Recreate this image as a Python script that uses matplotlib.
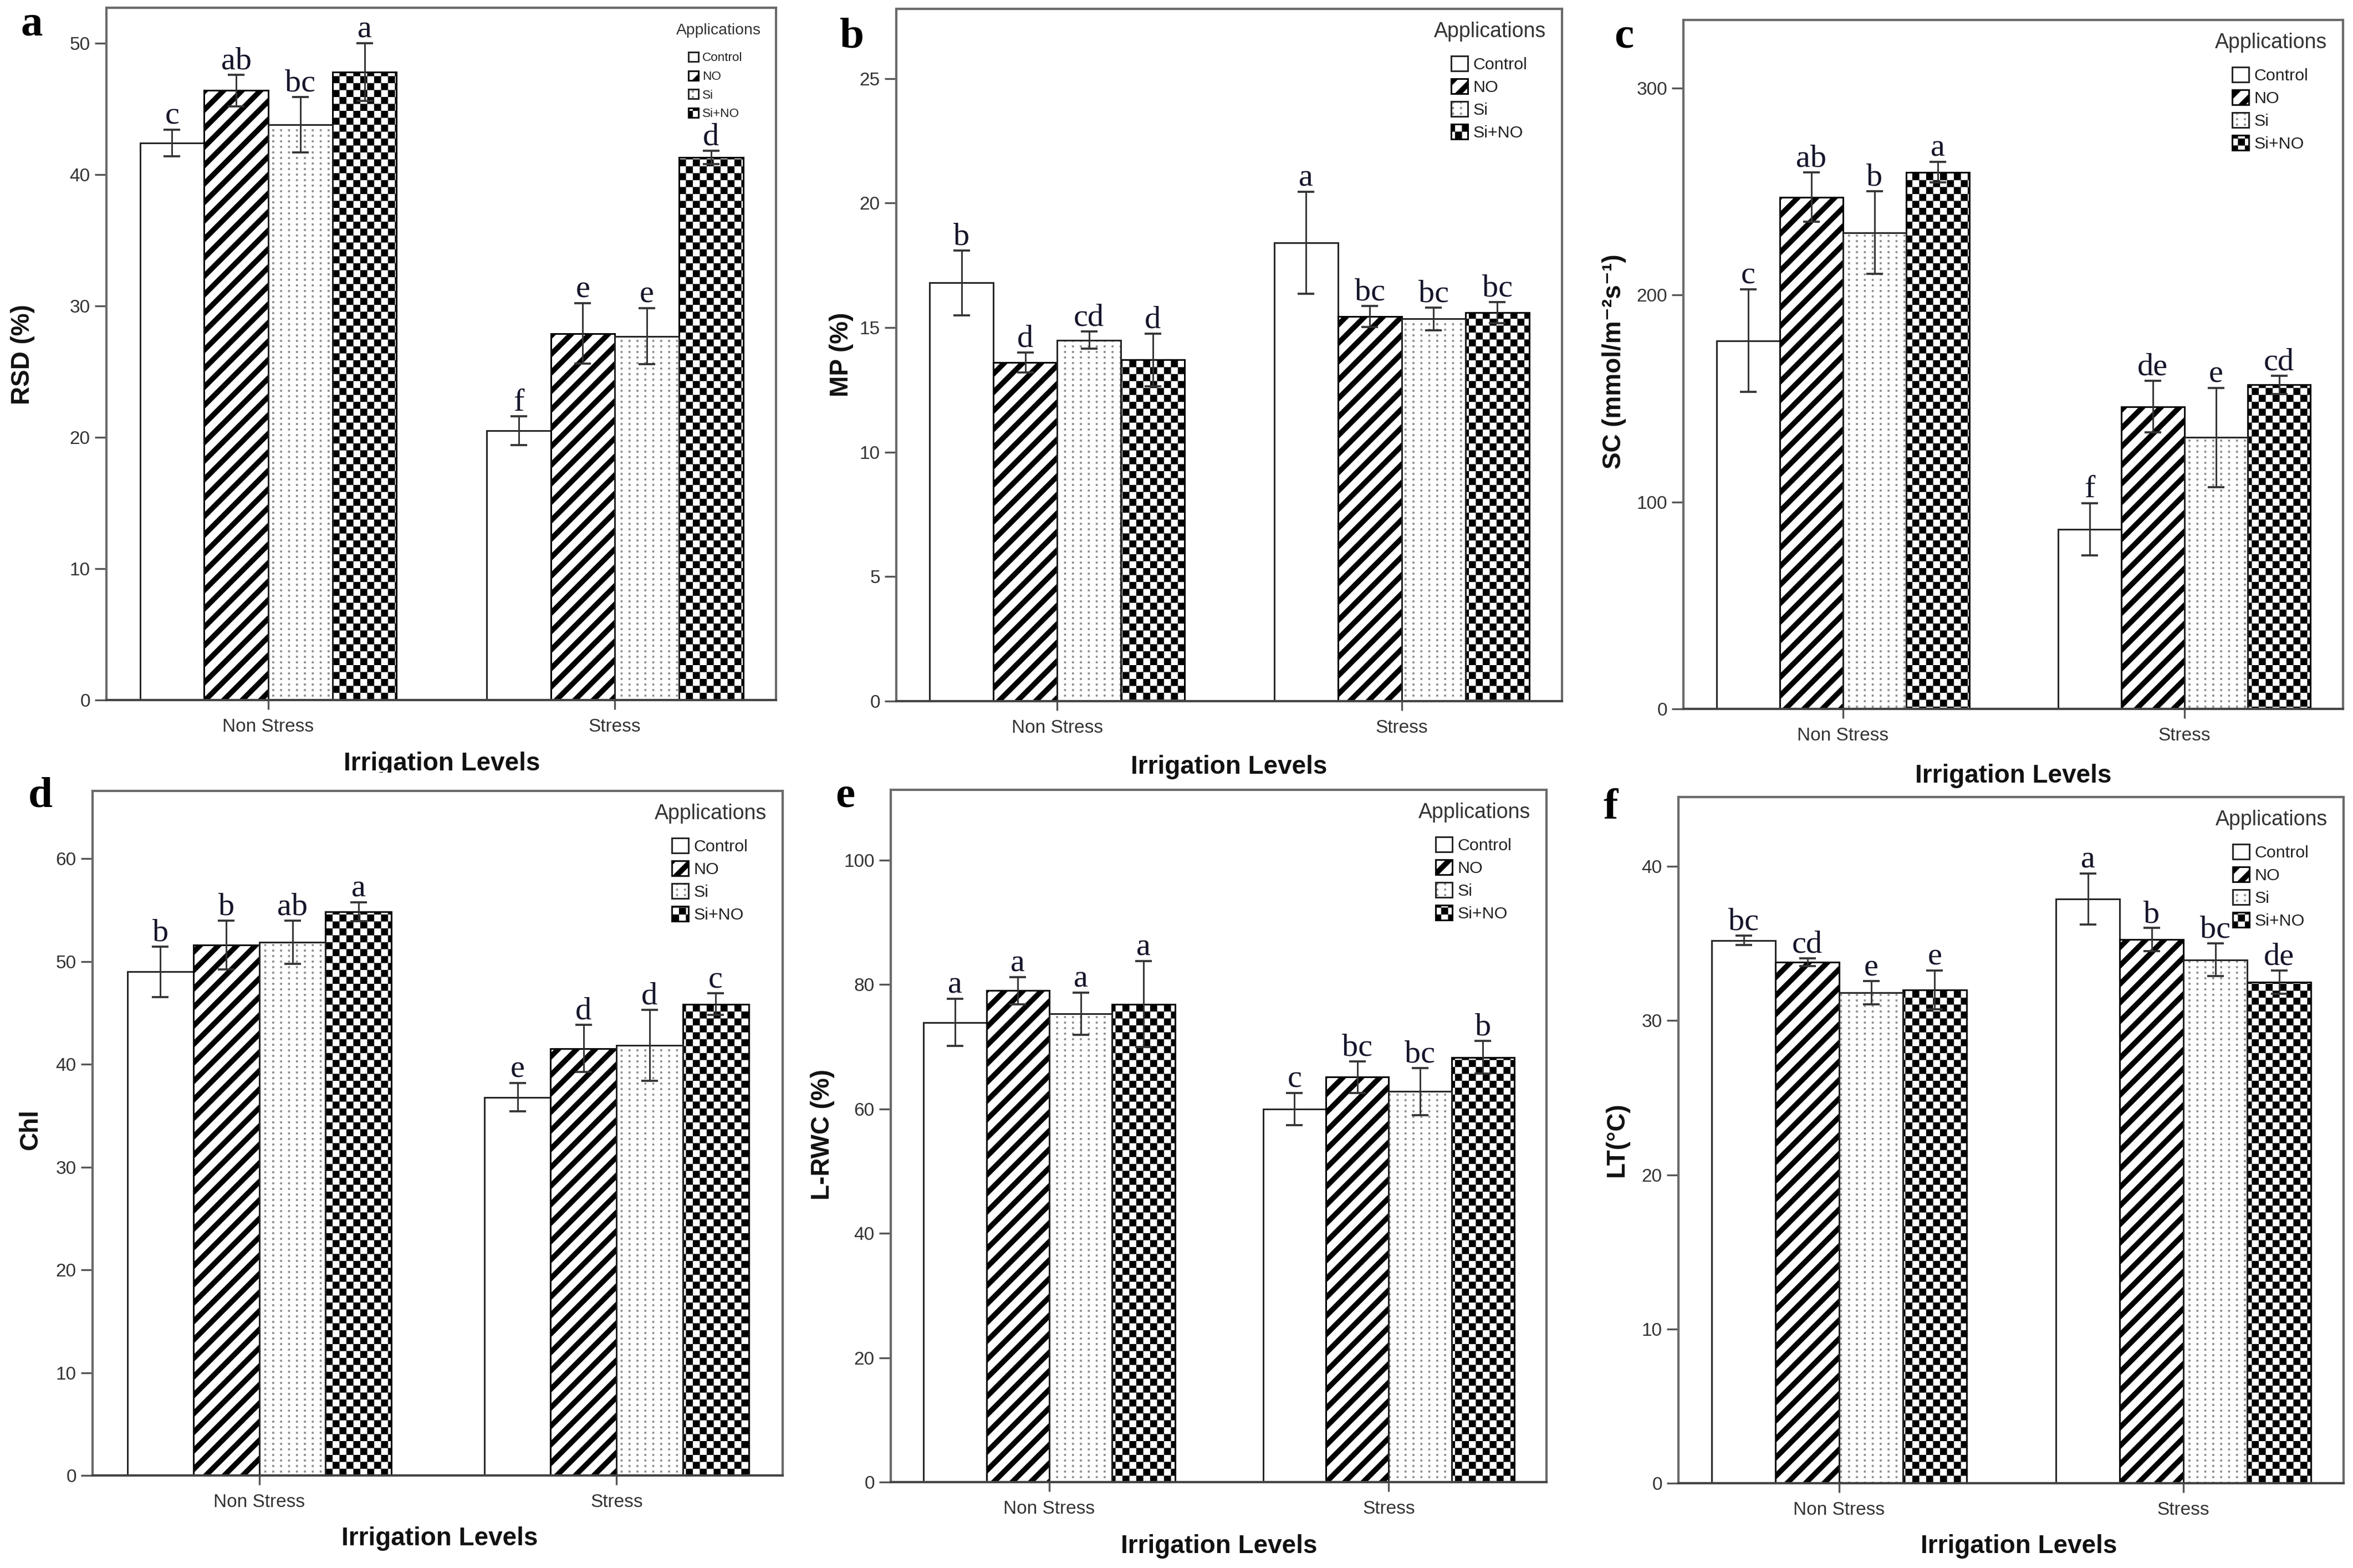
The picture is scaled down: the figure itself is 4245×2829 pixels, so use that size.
import numpy as np
import matplotlib
matplotlib.use('Agg')
import matplotlib.pyplot as plt
import matplotlib.hatch as mhatch
from matplotlib.path import Path
from matplotlib.patches import Rectangle
from matplotlib.legend_handler import HandlerTuple

# 데이터 - 각 리스트는 [Non Stress, Stress]
groups = ['Non Stress', 'Stress']
treatments = ['Control', 'NO', 'Si', 'Si+NO']

rsd_mean = [[42.4, 20.5], [46.4, 27.9], [43.8, 27.7], [47.8, 41.3]]
rsd_err = [[1.0, 1.1], [1.2, 2.3], [2.1, 2.15], [2.2, 0.5]]
rsd_let = [['c', 'f'], ['ab', 'e'], ['bc', 'e'], ['a', 'd']]

mp_mean = [[16.8, 18.4], [13.6, 15.45], [14.5, 15.35], [13.7, 15.6]]
mp_err = [[1.3, 2.05], [0.4, 0.42], [0.35, 0.45], [1.05, 0.42]]
mp_let = [['b', 'a'], ['d', 'bc'], ['cd', 'bc'], ['d', 'bc']]

sc_mean = [[178, 86.8], [247.4, 146.1], [230.2, 131.2], [259.4, 156.6]]
sc_err = [[24.7, 12.7], [12.0, 12.4], [20.0, 24.0], [5.0, 4.3]]
sc_let = [['c', 'f'], ['ab', 'de'], ['b', 'e'], ['a', 'cd']]

chl_mean = [[49.0, 36.8], [51.6, 41.55], [51.9, 41.85], [54.85, 45.85]]
chl_err = [[2.45, 1.38], [2.36, 2.3], [2.1, 3.45], [0.9, 1.04]]
chl_let = [['b', 'e'], ['b', 'd'], ['ab', 'd'], ['a', 'c']]

rwc_mean = [[73.9, 60.0], [79.0, 65.1], [75.3, 62.8], [76.85, 68.3]]
rwc_err = [[3.8, 2.6], [2.2, 2.5], [3.35, 3.8], [6.9, 2.6]]
rwc_let = [['a', 'c'], ['a', 'bc'], ['a', 'bc'], ['a', 'b']]

lt_mean = [[35.2, 37.9], [33.8, 35.25], [31.8, 33.95], [32.0, 32.5]]
lt_err = [[0.3, 1.65], [0.25, 0.75], [0.75, 1.07], [1.25, 0.76]]
lt_let = [['bc', 'a'], ['cd', 'b'], ['e', 'bc'], ['e', 'de']]


# 체크무늬 / 점무늬 해치 (matplotlib 기본 해치에 없음)
class CheckerHatch(mhatch.HatchPatternBase):
    def __init__(self, hatch, density):
        n = int(hatch.count('O') * density)
        self.n = n + (n % 2)
        self.num_vertices = (self.n * self.n // 2) * 5

    def set_vertices_and_codes(self, vertices, codes):
        n = self.n
        s = 1.0 / n
        ii, jj = np.meshgrid(np.arange(n), np.arange(n))
        keep = ((ii + jj) % 2 == 0).ravel()
        x0 = ii.ravel()[keep] * s
        y0 = jj.ravel()[keep] * s
        sq = np.array([[0, 0], [s, 0], [s, s], [0, s], [0, 0]])
        v = sq[None, :, :] + np.stack([x0, y0], 1)[:, None, :]
        vertices[:] = v.reshape(-1, 2)
        c = [Path.MOVETO, Path.LINETO, Path.LINETO, Path.LINETO, Path.CLOSEPOLY]
        codes[:] = np.tile(c, len(x0))


class GridDots(mhatch.HatchPatternBase):
    def __init__(self, hatch, density):
        c = hatch.count('.')
        self.nx = 7 * c
        self.ny = 10 * c
        self.num_vertices = self.nx * self.ny * 5

    def set_vertices_and_codes(self, vertices, codes):
        d = 0.0085
        xs = (np.arange(self.nx) + 0.5) / self.nx
        ys = (np.arange(self.ny) + 0.5) / self.ny
        X, Y = np.meshgrid(xs, ys)
        sq = np.array([[-d, -d], [d, -d], [d, d], [-d, d], [-d, -d]]) / 2
        v = sq[None, :, :] + np.stack([X.ravel(), Y.ravel()], 1)[:, None, :]
        vertices[:] = v.reshape(-1, 2)
        c = [Path.MOVETO, Path.LINETO, Path.LINETO, Path.LINETO, Path.CLOSEPOLY]
        codes[:] = np.tile(c, X.size)


mhatch._hatch_types[:] = [t for t in mhatch._hatch_types
                          if t not in (mhatch.LargeCircles, mhatch.SmallFilledCircles)]
mhatch._hatch_types += [CheckerHatch, GridDots]

HATCH_LW = {'NO': 2.3, 'Si': 0.25, 'Si+NO': 0.05}


def hatch_lw(patch, lw):
    # 버전마다 해치 선굵기 읽는 곳이 달라서 전부 설정
    if hasattr(patch, 'set_hatch_linewidth'):
        patch.set_hatch_linewidth(lw)
    patch._hatch_linewidth = lw
    orig = patch.draw

    def draw(renderer, _orig=orig, _lw=lw):
        with plt.rc_context({'hatch.linewidth': _lw}):
            _orig(renderer)
    patch.draw = draw


plt.rcParams['font.family'] = ['Liberation Sans', 'DejaVu Sans']
SERIF = ['Liberation Serif', 'DejaVu Serif']

W, H = 4245, 2829
fig = plt.figure(figsize=(W / 300, H / 300), dpi=300)

panels = [
    dict(mean=rsd_mean, err=rsd_err, let=rsd_let, ylabel='RSD (%)', ymax=52.7,
         ticks=[0, 10, 20, 30, 40, 50], tag='a', small=True),
    dict(mean=mp_mean, err=mp_err, let=mp_let, ylabel='MP (%)', ymax=27.8,
         ticks=[0, 5, 10, 15, 20, 25], tag='b', small=False),
    dict(mean=sc_mean, err=sc_err, let=sc_let, ylabel='SC (mmol/m\u207b\u00b2s\u207b\u00b9)', ymax=333,
         ticks=[0, 100, 200, 300], tag='c', small=False),
    dict(mean=chl_mean, err=chl_err, let=chl_let, ylabel='Chl', ymax=66.6,
         ticks=[0, 10, 20, 30, 40, 50, 60], tag='d', small=False),
    dict(mean=rwc_mean, err=rwc_err, let=rwc_let, ylabel='L-RWC (%)', ymax=111.3,
         ticks=[0, 20, 40, 60, 80, 100], tag='e', small=False),
    dict(mean=lt_mean, err=lt_err, let=lt_let, ylabel='LT(\u00b0C)', ymax=44.5,
         ticks=[0, 10, 20, 30, 40], tag='f', small=False),
]

# 배치 (픽셀): 축 박스, 패널 글자, y라벨, x라벨 위치
boxes = [(192, 14, 1400, 1263), (1617, 16, 2818, 1265), (3037, 36, 4227, 1279),
         (167, 1427, 1412, 2662), (1607, 1425, 2790, 2674), (3028, 1438, 4228, 2676)]
tag_pos = [(57, 63), (1537, 86), (2930, 85), (73, 1456), (1525, 1456), (2906, 1477)]
ylab_pos = [(41, 640), (1518, 640), (2912, 652), (55, 2038), (1484, 2047), (2917, 2056)]
xlab_pos = [(797, 1378), (2217, 1384), (3632, 1400), (793, 2776), (2199, 2790), (3642, 2790)]

bw = 0.185
offs = (np.arange(4) - 1.5) * bw
x = np.arange(len(groups))

for p, (l, t, r, b), tp, yp, xp in zip(panels, boxes, tag_pos, ylab_pos, xlab_pos):
    ax = fig.add_axes([l / W, 1 - b / H, (r - l) / W, (b - t) / H])
    handles = []
    for k, tr in enumerate(treatments):
        xs = x + offs[k]
        m = p['mean'][k]
        with plt.rc_context({'hatch.linewidth': HATCH_LW.get(tr, 1.0)}):
            if tr == 'Control':
                c = ax.bar(xs, m, bw, color='white', edgecolor='#222222', lw=0.7, zorder=2)
                h = c
            elif tr == 'NO':
                c = ax.bar(xs, m, bw, color='white', edgecolor='black', hatch='///', lw=0.7, zorder=2)
                h = c
            elif tr == 'Si':
                c = ax.bar(xs, m, bw, color='white', edgecolor='#8c8c8c', hatch='...', lw=0.0, zorder=2)
                c2 = ax.bar(xs, m, bw, fill=False, edgecolor='#222222', lw=0.7, zorder=2.1)
                h = (c, c2)
            else:
                c = ax.bar(xs, m, bw, color='white', edgecolor='black', hatch='OOOO', lw=0.7, zorder=2)
                h = c
        if tr in HATCH_LW:
            for bar in c:
                hatch_lw(bar, HATCH_LW[tr])
        handles.append(h)
        ax.errorbar(xs, m, yerr=p['err'][k], fmt='none', ecolor='#333333',
                    elinewidth=0.7, capsize=3.5, capthick=0.9, zorder=3)
        for xi, mi, ei, lt in zip(xs, m, p['err'][k], p['let'][k]):
            ax.annotate(lt, xy=(xi, mi + ei), xytext=(0, 2.5), textcoords='offset points',
                        ha='center', va='baseline', fontsize=14, family=SERIF,
                        color='#15152b', zorder=4)

    ax.set_xlim(-0.467, 1.465)
    ax.set_ylim(0, p['ymax'])
    ax.set_yticks(p['ticks'])
    ax.set_xticks(x)
    ax.set_xticklabels(groups)
    ax.tick_params(axis='y', direction='out', length=5, width=0.8, color='#555555',
                   pad=2, labelsize=8, labelcolor='#333333')
    ax.tick_params(axis='x', direction='inout', length=8, width=0.8, color='#555555',
                   pad=4, labelsize=8, labelcolor='#333333')
    for s in ax.spines.values():
        s.set_color('#6a6a6a')
        s.set_linewidth(1.0)
    ax.spines['bottom'].set_color('#444444')

    # 범례: 제목은 따로, 항목은 오른쪽 위에 붙임
    if p['small']:
        tfs, lfs, hs, lsp = 6.8, 5.4, 0.8, 0.54
        title_xy = (r - 104, t + 41)
        leg_xy = (r - 158, t + 80)
    else:
        tfs, lfs, hs, lsp = 9.0, 7.3, 1.0, 0.36
        title_xy = (r - 130, t + 41)
        leg_xy = (r - 200, t + 85)
    leg = ax.legend(handles, treatments, loc='upper left', frameon=False,
                    bbox_to_anchor=(leg_xy[0] / W, 1 - leg_xy[1] / H),
                    bbox_transform=fig.transFigure, fontsize=lfs,
                    handlelength=hs, handleheight=hs, handletextpad=0.3,
                    labelspacing=lsp, borderaxespad=0, borderpad=0,
                    handler_map={tuple: HandlerTuple(ndivide=1)})
    for txt in leg.get_texts():
        txt.set_color('#222222')
    for hnd, tr in zip(leg.legend_handles, treatments):
        if tr in HATCH_LW:
            hatch_lw(hnd, HATCH_LW[tr])
    fig.text(title_xy[0] / W, 1 - title_xy[1] / H, 'Applications', ha='center', va='center',
             fontsize=tfs, color='#333333')

    fig.text(tp[0] / W, 1 - tp[1] / H, p['tag'], ha='center', va='baseline',
             fontsize=19, fontweight='bold', family=SERIF, color='black')
    fig.text(yp[0] / W, 1 - yp[1] / H, p['ylabel'], rotation=90, ha='center', va='center',
             fontsize=11, fontweight='bold', color='#111111')
    fig.text(xp[0] / W, 1 - xp[1] / H, 'Irrigation Levels', ha='center', va='center',
             fontsize=11, fontweight='bold', color='#111111')

# 원본에서 a 패널의 x축 제목 아랫부분이 잘려 있음
fig.patches.append(Rectangle((450 / W, 1 - 1420 / H), 700 / W, 26 / H,
                             transform=fig.transFigure, facecolor='white',
                             edgecolor='none', zorder=5))

fig.savefig('out.png', dpi=300, facecolor='white')
